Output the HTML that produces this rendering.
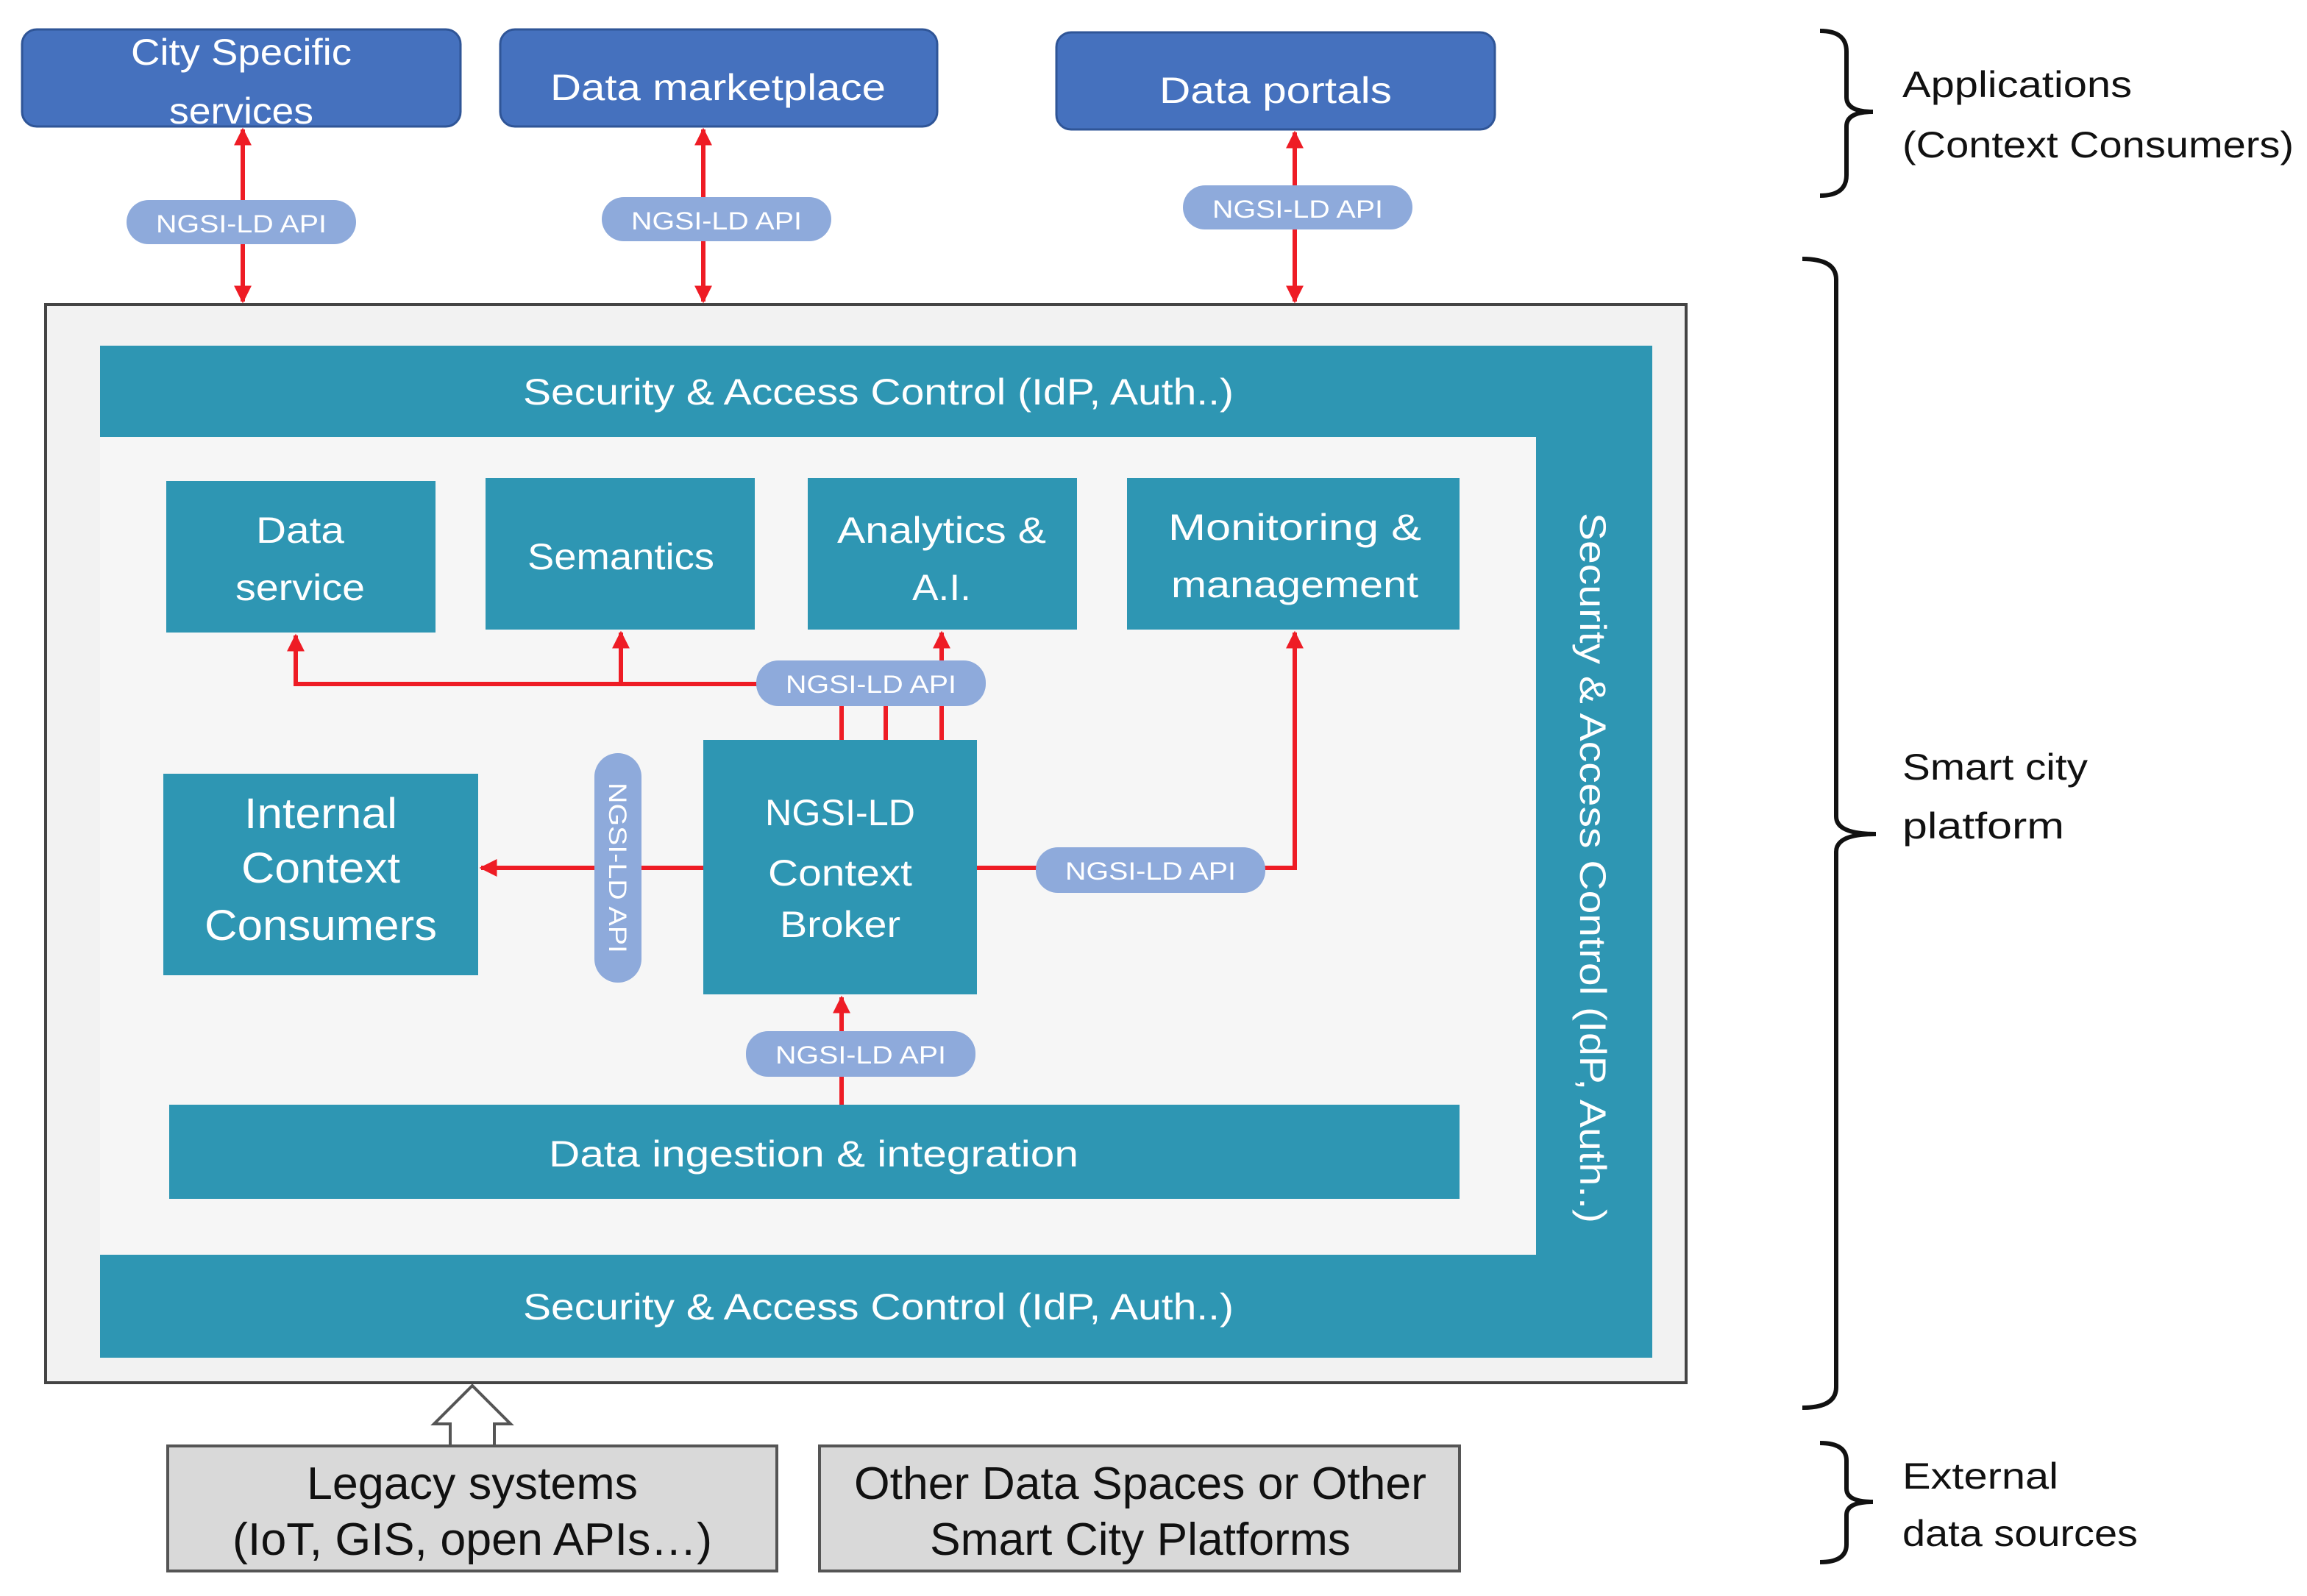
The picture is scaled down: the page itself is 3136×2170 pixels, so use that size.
<!DOCTYPE html>
<html><head><meta charset="utf-8"><style>html,body{margin:0;padding:0;background:#fff}svg{display:block}</style></head>
<body>
<svg width="3136" height="2170" viewBox="0 0 1568 1085" xmlns="http://www.w3.org/2000/svg" font-family="Liberation Sans, sans-serif">
<defs>
<marker id="ah" viewBox="0 0 10 10" refX="9" refY="5" markerWidth="4" markerHeight="4" orient="auto-start-reverse" markerUnits="strokeWidth"><path d="M0,0L10,5L0,10z" fill="#ee1c25"/></marker>
</defs>
<rect width="1568" height="1085" fill="#fff"/>
<g fill="#4571be" stroke="#2f5597" stroke-width="1.5">
<rect x="15" y="20" width="298" height="66" rx="10"/>
<rect x="340" y="20" width="297" height="66" rx="10"/>
<rect x="718" y="22" width="298" height="66" rx="10"/>
</g>
<g fill="#fff" font-size="25" text-anchor="middle">
<text x="164" y="44" textLength="150" lengthAdjust="spacingAndGlyphs">City Specific</text>
<text x="164" y="84" textLength="98" lengthAdjust="spacingAndGlyphs">services</text>
<text x="488" y="68" textLength="228" lengthAdjust="spacingAndGlyphs">Data marketplace</text>
<text x="867" y="70" textLength="158" lengthAdjust="spacingAndGlyphs">Data portals</text>
</g>
<rect x="31" y="207" width="1115" height="733" fill="#f2f2f2" stroke="#444" stroke-width="2"/>
<rect x="68" y="297" width="976" height="556" fill="#f6f6f6"/>
<g fill="#2e96b3">
<rect x="68" y="235" width="1055" height="62"/>
<rect x="1044" y="235" width="79" height="688"/>
<rect x="68" y="853" width="1055" height="70"/>
<rect x="113" y="327" width="183" height="103"/>
<rect x="330" y="325" width="183" height="103"/>
<rect x="549" y="325" width="183" height="103"/>
<rect x="766" y="325" width="226" height="103"/>
<rect x="478" y="503" width="186" height="173"/>
<rect x="111" y="526" width="214" height="137"/>
<rect x="115" y="751" width="877" height="64"/>
</g>
<g fill="#fff" font-size="25" text-anchor="middle">
<text x="597" y="275" textLength="483" lengthAdjust="spacingAndGlyphs">Security &amp; Access Control (IdP, Auth..)</text>
<text x="597" y="897" textLength="483" lengthAdjust="spacingAndGlyphs">Security &amp; Access Control (IdP, Auth..)</text>
<text transform="translate(1074,590) rotate(90)" textLength="483" lengthAdjust="spacingAndGlyphs">Security &amp; Access Control (IdP, Auth..)</text>
<text x="204" y="369" textLength="60" lengthAdjust="spacingAndGlyphs">Data</text>
<text x="204" y="408" textLength="88" lengthAdjust="spacingAndGlyphs">service</text>
<text x="422" y="387" textLength="127" lengthAdjust="spacingAndGlyphs">Semantics</text>
<text x="640" y="369" textLength="142" lengthAdjust="spacingAndGlyphs">Analytics &amp;</text>
<text x="640" y="408" textLength="40" lengthAdjust="spacingAndGlyphs">A.I.</text>
<text x="880" y="367" textLength="172" lengthAdjust="spacingAndGlyphs">Monitoring &amp;</text>
<text x="880" y="406" textLength="168" lengthAdjust="spacingAndGlyphs">management</text>
<text x="571" y="561" textLength="102" lengthAdjust="spacingAndGlyphs">NGSI-LD</text>
<text x="571" y="602" textLength="98" lengthAdjust="spacingAndGlyphs">Context</text>
<text x="571" y="637" textLength="82" lengthAdjust="spacingAndGlyphs">Broker</text>
<text x="218" y="563" font-size="29" textLength="104" lengthAdjust="spacingAndGlyphs">Internal</text>
<text x="218" y="600" font-size="29" textLength="108" lengthAdjust="spacingAndGlyphs">Context</text>
<text x="218" y="639" font-size="29" textLength="158" lengthAdjust="spacingAndGlyphs">Consumers</text>
<text x="553" y="793" textLength="360" lengthAdjust="spacingAndGlyphs">Data ingestion &amp; integration</text>
</g>
<g stroke="#ee1c25" stroke-width="3" fill="none">
<line x1="165" y1="88" x2="165" y2="205" marker-start="url(#ah)" marker-end="url(#ah)"/>
<line x1="478" y1="88" x2="478" y2="205" marker-start="url(#ah)" marker-end="url(#ah)"/>
<line x1="880" y1="90" x2="880" y2="205" marker-start="url(#ah)" marker-end="url(#ah)"/>
<polyline points="515,465 201,465 201,432" marker-end="url(#ah)"/>
<line x1="422" y1="465" x2="422" y2="430" marker-end="url(#ah)"/>
<line x1="640" y1="465" x2="640" y2="430" marker-end="url(#ah)"/>
<line x1="572" y1="479" x2="572" y2="503"/>
<line x1="602" y1="479" x2="602" y2="503"/>
<line x1="640" y1="479" x2="640" y2="503"/>
<line x1="478" y1="590" x2="327" y2="590" marker-end="url(#ah)"/>
<polyline points="664,590 880,590 880,430" marker-end="url(#ah)"/>
<line x1="572" y1="751" x2="572" y2="678" marker-end="url(#ah)"/>
</g>
<g fill="#8eaadb">
<rect x="86" y="136" width="156" height="30" rx="15"/>
<rect x="409" y="134" width="156" height="30" rx="15"/>
<rect x="804" y="126" width="156" height="30" rx="15"/>
<rect x="514" y="449" width="156" height="31" rx="15"/>
<rect x="704" y="576" width="156" height="31" rx="15"/>
<rect x="507" y="701" width="156" height="31" rx="15"/>
<rect x="404" y="512" width="32" height="156" rx="16"/>
</g>
<g fill="#fff" font-size="17" text-anchor="middle">
<text x="164" y="158" textLength="116" lengthAdjust="spacingAndGlyphs">NGSI-LD API</text>
<text x="487" y="156" textLength="116" lengthAdjust="spacingAndGlyphs">NGSI-LD API</text>
<text x="882" y="148" textLength="116" lengthAdjust="spacingAndGlyphs">NGSI-LD API</text>
<text x="592" y="471" textLength="116" lengthAdjust="spacingAndGlyphs">NGSI-LD API</text>
<text x="782" y="598" textLength="116" lengthAdjust="spacingAndGlyphs">NGSI-LD API</text>
<text x="585" y="723" textLength="116" lengthAdjust="spacingAndGlyphs">NGSI-LD API</text>
<text transform="translate(414,590) rotate(90)" textLength="116" lengthAdjust="spacingAndGlyphs">NGSI-LD API</text>
</g>
<path d="M306,984 L306,968 L295,968 L321,942 L347,968 L336,968 L336,984 Z" fill="#fff" stroke="#555" stroke-width="2"/>
<rect x="114" y="983" width="414" height="85" fill="#d9d9d9" stroke="#555" stroke-width="2"/>
<rect x="557" y="983" width="435" height="85" fill="#d9d9d9" stroke="#555" stroke-width="2"/>
<g fill="#111" font-size="31" text-anchor="middle">
<text x="321" y="1019" textLength="225" lengthAdjust="spacingAndGlyphs">Legacy systems</text>
<text x="321" y="1057" textLength="326" lengthAdjust="spacingAndGlyphs">(IoT, GIS, open APIs…)</text>
<text x="775" y="1019" textLength="389" lengthAdjust="spacingAndGlyphs">Other Data Spaces or Other</text>
<text x="775" y="1057" textLength="286" lengthAdjust="spacingAndGlyphs">Smart City Platforms</text>
</g>
<g stroke="#111" stroke-width="3" fill="none">
<path d="M1237,21 Q1255,21 1255,35 L1255,66 Q1255,76 1273,76 Q1255,76 1255,86 L1255,119 Q1255,133 1237,133"/>
<path d="M1225,176 Q1248,176 1248,190 L1248,555 Q1248,567 1275,567 Q1248,567 1248,579 L1248,943 Q1248,957 1225,957"/>
<path d="M1237,981 Q1255,981 1255,993 L1255,1012 Q1255,1021 1273,1021 Q1255,1021 1255,1030 L1255,1050 Q1255,1062 1237,1062"/>
</g>
<g fill="#111" font-size="25">
<text x="1293" y="66" textLength="156" lengthAdjust="spacingAndGlyphs">Applications</text>
<text x="1293" y="107" textLength="266" lengthAdjust="spacingAndGlyphs">(Context Consumers)</text>
<text x="1293" y="530" textLength="126" lengthAdjust="spacingAndGlyphs">Smart city</text>
<text x="1293" y="570" textLength="110" lengthAdjust="spacingAndGlyphs">platform</text>
<text x="1293" y="1012" textLength="106" lengthAdjust="spacingAndGlyphs">External</text>
<text x="1293" y="1051" textLength="160" lengthAdjust="spacingAndGlyphs">data sources</text>
</g>
</svg>
</body></html>
